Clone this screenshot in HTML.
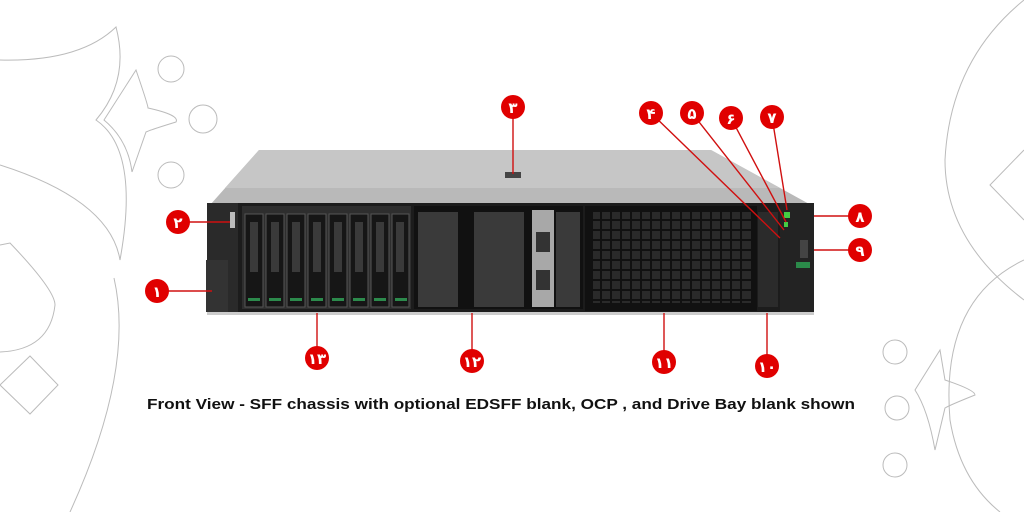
<!DOCTYPE html>
<html><head><meta charset="utf-8"><style>
html,body{margin:0;padding:0;background:#fff;width:1024px;height:512px;overflow:hidden}
svg{display:block}
.n{font-family:"Liberation Sans","DejaVu Sans",sans-serif;font-weight:bold;fill:#fff;font-size:15px;text-anchor:middle}
</style></head><body>
<svg width="1024" height="512" viewBox="0 0 1024 512" xmlns="http://www.w3.org/2000/svg">
<g fill="none" stroke="#bbb" stroke-width="1">
<path d="M0 60 Q80 62 116 27 Q130 80 96 120 Q140 150 120 260 Q110 200 0 165"/>
<path d="M104 120 L136 70 Q148 105 148 108 Q180 115 176 122 Q150 130 146 132 L132 172 Q128 140 104 120Z"/>
<circle cx="171" cy="69" r="13"/><circle cx="203" cy="119" r="14"/><circle cx="171" cy="175" r="13"/>
<path d="M114 278 Q135 370 70 512"/><path d="M0 245 L10 243 Q55 290 55 305 Q50 350 0 352"/>
<path d="M0 385 L30 356 L58 385 L30 414Z"/>
<path d="M1024 0 Q950 60 945 160 Q945 240 1024 300"/>
<path d="M1024 150 L990 185 L1024 220"/>
<path d="M1024 260 Q940 300 950 420 Q960 480 1000 512"/>
<circle cx="895" cy="352" r="12"/><circle cx="897" cy="408" r="12"/><circle cx="895" cy="465" r="12"/>
<path d="M915 390 L940 350 L945 380 Q975 390 975 395 Q950 405 945 408 L935 450 Q928 410 915 390Z"/>
</g>
<polygon points="259,150 711,150 811,205 210,205" fill="#b9b9b9"/>
<polygon points="259,150 711,150 780,188 225,188" fill="#c6c6c6"/>
<rect x="505" y="172" width="16" height="6" fill="#444"/>
<rect x="207" y="203" width="607" height="110" fill="#1c1c1c"/>
<rect x="207" y="203" width="31" height="110" fill="#2a2a2a"/>
<rect x="206" y="260" width="22" height="52" fill="#333"/>
<rect x="230" y="212" width="5" height="16" fill="#bbb"/>
<rect x="242" y="206" width="169" height="103" fill="#2e2e2e"/>
<g fill="#161616" stroke="#555">
<rect x="245" y="214" width="18" height="93"/><rect x="266" y="214" width="18" height="93"/><rect x="287" y="214" width="18" height="93"/><rect x="308" y="214" width="18" height="93"/><rect x="329" y="214" width="18" height="93"/><rect x="350" y="214" width="18" height="93"/><rect x="371" y="214" width="18" height="93"/><rect x="392" y="214" width="17" height="93"/>
</g>
<g fill="#3a3a3a">
<rect x="250" y="222" width="8" height="50"/><rect x="271" y="222" width="8" height="50"/><rect x="292" y="222" width="8" height="50"/><rect x="313" y="222" width="8" height="50"/><rect x="334" y="222" width="8" height="50"/><rect x="355" y="222" width="8" height="50"/><rect x="376" y="222" width="8" height="50"/><rect x="396" y="222" width="8" height="50"/>
</g>
<g fill="#2c8a4c">
<rect x="248" y="298" width="12" height="3"/><rect x="269" y="298" width="12" height="3"/><rect x="290" y="298" width="12" height="3"/><rect x="311" y="298" width="12" height="3"/><rect x="332" y="298" width="12" height="3"/><rect x="353" y="298" width="12" height="3"/><rect x="374" y="298" width="12" height="3"/><rect x="395" y="298" width="12" height="3"/>
</g>
<rect x="414" y="206" width="169" height="103" fill="#111"/>
<g fill="#3a3a3a">
<rect x="418" y="212" width="40" height="95"/><rect x="474" y="212" width="50" height="95"/><rect x="556" y="212" width="24" height="95"/>
</g>
<rect x="532" y="210" width="22" height="97" fill="#a8a8a8"/>
<rect x="536" y="232" width="14" height="20" fill="#333"/><rect x="536" y="270" width="14" height="20" fill="#333"/>
<rect x="585" y="206" width="172" height="105" fill="#111"/>
<rect x="593" y="212" width="158" height="91" fill="#2a2a2a"/>
<g stroke="#111" stroke-width="2">
<path d="M593 220H751M593 230H751M593 240H751M593 250H751M593 260H751M593 270H751M593 280H751M593 290H751M593 300H751"/>
<path d="M601 212V303M611 212V303M621 212V303M631 212V303M641 212V303M651 212V303M661 212V303M671 212V303M681 212V303M691 212V303M701 212V303M711 212V303M721 212V303M731 212V303M741 212V303"/>
</g>
<rect x="758" y="212" width="20" height="95" fill="#2b2b2b"/>
<rect x="780" y="203" width="34" height="110" fill="#232323"/>
<rect x="784" y="212" width="6" height="6" fill="#4c4"/><rect x="784" y="222" width="4" height="5" fill="#4c4"/>
<rect x="800" y="240" width="8" height="18" fill="#444"/>
<rect x="796" y="262" width="14" height="6" fill="#2b8a4a"/>
<rect x="207" y="312" width="607" height="3" fill="#ccc"/>
<g stroke="#d01010" stroke-width="1.4">
<path d="M157 291H212M178 222H230M513 107V174M651 113L780 238M692 113L784 230M731 118L786 222M772 117L787 210M860 216H814M860 250H814M767 366V313M664 362V313M472 361V313M317 358V313"/>
</g>
<g fill="#e00000">
<circle cx="157" cy="291" r="12"/><circle cx="178" cy="222" r="12"/><circle cx="513" cy="107" r="12"/><circle cx="651" cy="113" r="12"/><circle cx="692" cy="113" r="12"/><circle cx="731" cy="118" r="12"/><circle cx="772" cy="117" r="12"/><circle cx="860" cy="216" r="12"/><circle cx="860" cy="250" r="12"/><circle cx="767" cy="366" r="12"/><circle cx="664" cy="362" r="12"/><circle cx="472" cy="361" r="12"/><circle cx="317" cy="358" r="12"/>
</g>
<g class="n">
<text x="157" y="297" class="n">۱</text><text x="178" y="228" class="n">۲</text><text x="513" y="113" class="n">۳</text><text x="651" y="119" class="n">۴</text><text x="692" y="119" class="n">۵</text><text x="731" y="124" class="n">۶</text><text x="772" y="123" class="n">۷</text><text x="860" y="222" class="n">۸</text><text x="860" y="256" class="n">۹</text><text x="767" y="372" class="n" font-size="12">۱۰</text><text x="664" y="368" class="n" font-size="12">۱۱</text><text x="472" y="367" class="n" font-size="12">۱۲</text><text x="317" y="364" class="n" font-size="12">۱۳</text>
</g>
<text x="501" y="409" font-family="Liberation Sans, sans-serif" font-weight="bold" font-size="15" text-anchor="middle" fill="#111" textLength="708" lengthAdjust="spacingAndGlyphs">Front View - SFF chassis with optional EDSFF blank, OCP , and Drive Bay blank shown</text>
</svg>
</body></html>
